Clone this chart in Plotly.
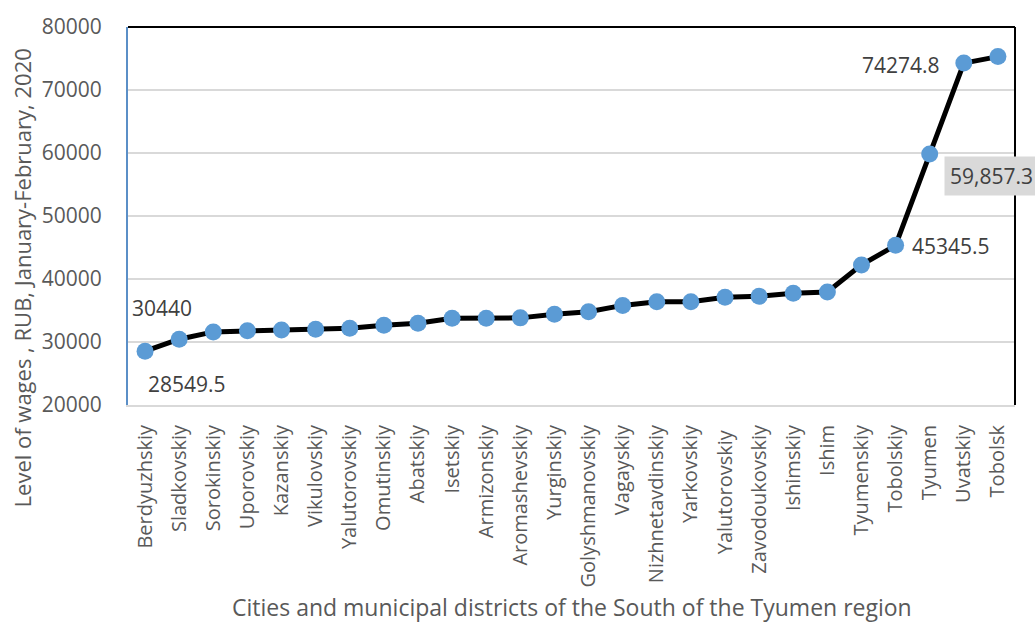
import plotly.graph_objects as go

districts = ["Berdyuzhskiy", "Sladkovskiy", "Sorokinskiy", "Uporovskiy", "Kazanskiy",
             "Vikulovskiy", "Yalutorovskiy", "Omutinskiy", "Abatskiy", "Isetskiy",
             "Armizonskiy", "Aromashevskiy", "Yurginskiy", "Golyshmanovskiy", "Vagayskiy",
             "Nizhnetavdinskiy", "Yarkovskiy", "Yalutorovskiy ", "Zavodoukovskiy", "Ishimskiy",
             "Ishim", "Tyumenskiy", "Tobolskiy", "Tyumen", "Uvatskiy", "Tobolsk"]
wages = [28549.5, 30440, 31600, 31770, 31920, 32040, 32200, 32670, 32980, 33770,
         33780, 33830, 34390, 34810, 35810, 36380, 36400, 37110, 37270, 37740,
         37940, 42240, 45345.5, 59857.3, 74274.8, 75300]

y_ticks = [20000, 30000, 40000, 50000, 60000, 70000, 80000]

FONT = "Open Sans"
GREY = "#595959"

fig = go.Figure()
fig.add_trace(go.Scatter(
    x=districts, y=wages, mode="lines+markers",
    line=dict(color="black", width=5),
    marker=dict(color="#5B9BD5", size=17, line=dict(width=0)),
    showlegend=False, hoverinfo="x+y", cliponaxis=False,
))

def lab(i, text, xanchor, yanchor, xshift, yshift, bg=None):
    fig.add_annotation(x=districts[i], y=wages[i], text=text, showarrow=False,
                       xanchor=xanchor, yanchor=yanchor, xshift=xshift, yshift=yshift,
                       font=dict(family=FONT, size=21, color="#404040"),
                       bgcolor=bg, borderpad=5 if bg else 0)

lab(1, "30440", "center", "bottom", -17, 16)
lab(0, "28549.5", "left", "top", 2, -18)
lab(24, "74274.8", "right", "middle", -23, -2)
lab(23, "59,857.3", "left", "top", 14, -2, bg="#D9D9D9")
lab(22, "45345.5", "left", "middle", 15, -1)

fig.add_annotation(xref="paper", yref="paper", x=-0.119, y=0.5,
                   yshift=-62, text="Level of wages , RUB, January-February, 2020",
                   textangle=-90, showarrow=False, xanchor="center", yanchor="middle",
                   font=dict(family=FONT, size=22, color=GREY))
fig.add_annotation(xref="paper", yref="paper", x=0.5, y=0, yshift=-202,
                   text="Cities and municipal districts of the South of the Tyumen region",
                   showarrow=False, xanchor="center", yanchor="middle",
                   font=dict(family=FONT, size=23, color=GREY))

fig.update_layout(
    shapes=[dict(type="line", xref="paper", yref="paper", x0=0, x1=1, y0=1, y1=1,
                 line=dict(color="black", width=2)),
            dict(type="line", xref="paper", yref="paper", x0=1, x1=1, y0=0, y1=1,
                 line=dict(color="black", width=2))],
    xaxis=dict(type="category", tickangle=-90, showgrid=False,
               range=[-0.5, len(districts) - 0.5],
               showline=True, linecolor="#D9D9D9", linewidth=2,
               tickfont=dict(family=FONT, size=20, color=GREY),
               ticks="", ticklabelstandoff=10),
    yaxis=dict(range=[20000, 80000], tickvals=y_ticks, tickformat="d",
               showgrid=True, gridcolor="#D9D9D9", gridwidth=1.5,
               showline=True, linecolor="#5B8FC7", linewidth=2,
               zeroline=False, ticks="", ticklabelstandoff=20,
               tickfont=dict(family=FONT, size=21, color=GREY)),
    width=1035, height=625, margin=dict(l=128, r=20, t=23, b=220),
    plot_bgcolor="white", paper_bgcolor="white",
)

fig.write_html("out.html")
